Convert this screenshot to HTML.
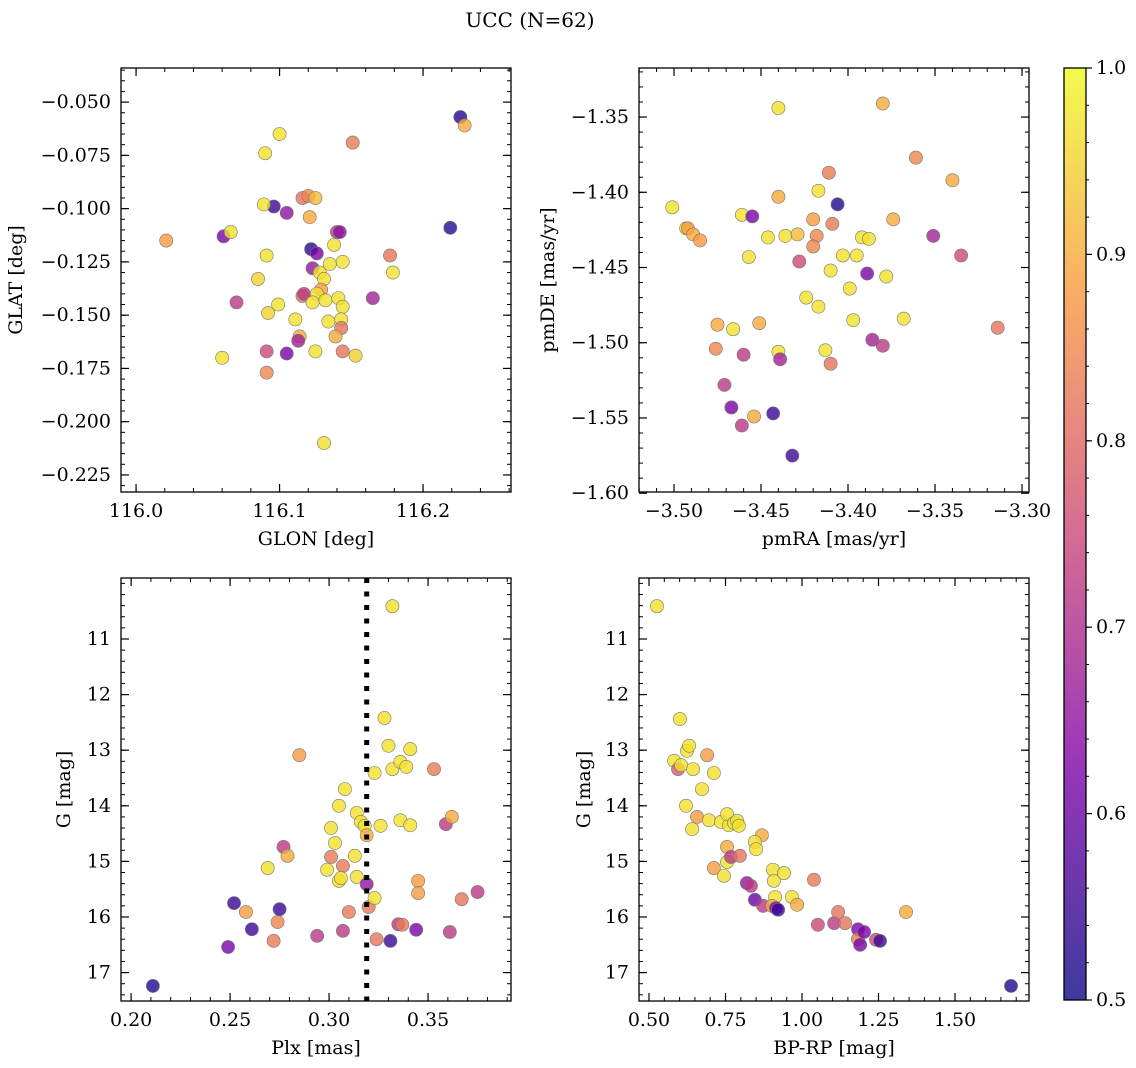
<!DOCTYPE html>
<html><head><meta charset="utf-8"><style>
html,body{margin:0;padding:0;background:#fff;}
svg{display:block;font-family:"DejaVu Serif","Liberation Serif",serif;}
</style></head><body>
<svg id="fig" width="1136" height="1068" viewBox="0 0 1136 1068" xmlns="http://www.w3.org/2000/svg">
<defs><linearGradient id="cmap" x1="0" y1="1" x2="0" y2="0">
<stop offset="0" stop-color="#0d0887"/><stop offset="0.25" stop-color="#7e03a8"/><stop offset="0.5" stop-color="#cc4778"/><stop offset="0.75" stop-color="#f89540"/><stop offset="1" stop-color="#f0f921"/></linearGradient></defs>
<text x="530" y="27" font-size="20" text-anchor="middle">UCC (N=62)</text>
</svg>
<script>
// ---- data ----
const tlGlon=[116.226,116.229,116.021,116.061,116.066,116.070,116.060,116.091,116.091,116.100,116.090,116.151,116.096,116.105,116.089,116.116,116.120,116.125,116.121,116.122,116.126,116.091,116.085,116.123,116.128,116.131,116.135,116.138,116.144,116.140,116.142,116.129,116.116,116.117,116.126,116.123,116.132,116.141,116.144,116.099,116.092,116.111,116.134,116.143,116.143,116.114,116.113,116.139,116.105,116.125,116.144,116.153,116.177,116.179,116.165,116.219,116.131];
const tlGlat=[-0.057,-0.061,-0.115,-0.113,-0.111,-0.144,-0.170,-0.177,-0.167,-0.065,-0.074,-0.069,-0.099,-0.102,-0.098,-0.095,-0.094,-0.095,-0.104,-0.119,-0.121,-0.122,-0.133,-0.128,-0.130,-0.133,-0.126,-0.117,-0.125,-0.111,-0.111,-0.138,-0.141,-0.140,-0.140,-0.144,-0.143,-0.142,-0.146,-0.145,-0.149,-0.152,-0.153,-0.152,-0.156,-0.160,-0.162,-0.160,-0.168,-0.167,-0.167,-0.169,-0.122,-0.130,-0.142,-0.109,-0.210];
const tlProb=[0.52,0.9,0.88,0.62,0.97,0.72,0.97,0.85,0.75,0.97,0.97,0.83,0.55,0.65,0.97,0.82,0.85,0.92,0.9,0.53,0.62,0.97,0.95,0.66,0.97,0.97,0.97,0.97,0.97,0.72,0.65,0.88,0.82,0.72,0.97,0.97,0.97,0.97,0.97,0.97,0.95,0.97,0.97,0.97,0.82,0.9,0.68,0.9,0.62,0.97,0.82,0.95,0.82,0.97,0.68,0.53,0.97];

const trPmra=[-3.501,-3.493,-3.492,-3.489,-3.485,-3.461,-3.455,-3.457,-3.475,-3.466,-3.451,-3.476,-3.460,-3.440,-3.439,-3.440,-3.440,-3.446,-3.436,-3.429,-3.428,-3.420,-3.418,-3.420,-3.417,-3.411,-3.409,-3.406,-3.424,-3.417,-3.410,-3.413,-3.410,-3.403,-3.399,-3.397,-3.395,-3.392,-3.388,-3.389,-3.386,-3.380,-3.378,-3.374,-3.368,-3.380,-3.361,-3.340,-3.351,-3.335,-3.314,-3.471,-3.467,-3.461,-3.454,-3.443,-3.432];
const trPmde=[-1.410,-1.424,-1.424,-1.428,-1.432,-1.415,-1.416,-1.443,-1.488,-1.491,-1.487,-1.504,-1.508,-1.506,-1.511,-1.344,-1.403,-1.430,-1.429,-1.428,-1.446,-1.418,-1.429,-1.436,-1.399,-1.387,-1.421,-1.408,-1.470,-1.476,-1.452,-1.505,-1.514,-1.442,-1.464,-1.485,-1.442,-1.430,-1.431,-1.454,-1.498,-1.502,-1.456,-1.418,-1.484,-1.341,-1.377,-1.392,-1.429,-1.442,-1.490,-1.528,-1.543,-1.555,-1.549,-1.547,-1.575];
const trProb=[0.97,0.97,0.88,0.9,0.88,0.97,0.62,0.97,0.9,0.97,0.9,0.85,0.72,0.97,0.68,0.97,0.9,0.97,0.97,0.92,0.75,0.88,0.85,0.85,0.97,0.83,0.83,0.52,0.97,0.97,0.97,0.97,0.82,0.97,0.97,0.97,0.97,0.97,0.97,0.62,0.68,0.72,0.97,0.9,0.97,0.9,0.85,0.9,0.68,0.75,0.82,0.72,0.62,0.72,0.9,0.55,0.55];

const blPlx=[0.211,0.249,0.252,0.258,0.261,0.272,0.274,0.275,0.277,0.279,0.269,0.294,0.285,0.299,0.301,0.303,0.301,0.305,0.305,0.307,0.306,0.308,0.310,0.307,0.313,0.314,0.314,0.316,0.318,0.319,0.319,0.320,0.323,0.324,0.323,0.326,0.328,0.330,0.332,0.332,0.336,0.339,0.341,0.336,0.341,0.335,0.337,0.331,0.344,0.345,0.345,0.353,0.359,0.362,0.361,0.367,0.375];
const blG=[17.24,16.54,15.75,15.91,16.22,16.43,16.09,15.86,14.74,14.90,15.12,16.34,13.09,15.15,14.40,14.67,14.92,14.00,15.35,15.08,15.30,13.70,15.91,16.25,14.90,15.28,14.13,14.29,14.36,14.53,15.41,15.82,15.66,16.40,13.41,14.36,12.42,12.92,10.41,13.34,13.21,13.30,12.98,14.26,14.35,16.13,16.14,16.43,16.23,15.35,15.57,13.34,14.33,14.20,16.27,15.68,15.55];
const blProb=[0.52,0.62,0.55,0.88,0.55,0.83,0.85,0.55,0.72,0.9,0.97,0.72,0.88,0.97,0.97,0.97,0.83,0.97,0.97,0.83,0.97,0.97,0.83,0.72,0.97,0.97,0.97,0.97,0.97,0.9,0.65,0.83,0.97,0.82,0.97,0.97,0.97,0.97,0.97,0.97,0.97,0.97,0.97,0.97,0.97,0.72,0.83,0.55,0.62,0.88,0.88,0.83,0.72,0.9,0.72,0.82,0.72];
const plxLine=[0.319];

const brColor=[0.526,0.601,0.582,0.595,0.605,0.624,0.631,0.644,0.621,0.641,0.657,0.673,0.690,0.696,0.712,0.712,0.735,0.745,0.755,0.755,0.761,0.755,0.768,0.778,0.788,0.794,0.797,0.820,0.833,0.846,0.869,0.846,0.850,0.873,0.905,0.908,0.912,0.902,0.915,0.922,0.941,0.967,0.984,1.039,1.052,1.105,1.118,1.141,1.183,1.183,1.190,1.203,1.242,1.255,1.340,1.683];
const brG=[10.41,12.44,13.19,13.34,13.27,13.01,12.92,13.34,14.00,14.42,14.20,13.70,13.09,14.26,13.41,15.12,14.29,15.26,15.01,14.74,14.35,14.15,14.92,14.31,14.27,14.36,14.90,15.39,15.44,15.69,14.53,14.65,14.78,15.80,15.15,15.35,15.64,15.80,15.84,15.87,15.21,15.64,15.78,15.33,16.14,16.11,15.91,16.11,16.22,16.40,16.50,16.27,16.41,16.43,15.91,17.24];
const brProb=[0.97,0.97,0.97,0.78,0.97,0.97,0.97,0.97,0.97,0.97,0.88,0.97,0.88,0.97,0.97,0.88,0.97,0.97,0.97,0.9,0.97,0.97,0.72,0.97,0.97,0.97,0.82,0.65,0.72,0.6,0.9,0.97,0.97,0.72,0.97,0.97,0.97,0.9,0.62,0.55,0.97,0.97,0.9,0.83,0.75,0.72,0.82,0.82,0.62,0.83,0.62,0.62,0.75,0.55,0.9,0.52];

const glonTicks=[116.0,116.1,116.2], glatTicks=[-0.050,-0.075,-0.100,-0.125,-0.150,-0.175,-0.200,-0.225];
const pmraTicks=[-3.50,-3.45,-3.40,-3.35,-3.30], pmdeTicks=[-1.35,-1.40,-1.45,-1.50,-1.55,-1.60];
const plxTicks=[0.20,0.25,0.30,0.35], gTicks=[11,12,13,14,15,16,17], bprpTicks=[0.50,0.75,1.00,1.25,1.50];
const cbTicks=[0.5,0.6,0.7,0.8,0.9,1.0];

// ---- drawing ----
const svg=document.getElementById('fig');
const NS='http://www.w3.org/2000/svg';
const FS=19;
function mk(tag,attrs,parent){const e=document.createElementNS(NS,tag);for(const k in attrs)e.setAttribute(k,attrs[k]);(parent||svg).appendChild(e);return e;}
const stops=[[13,8,135],[126,3,168],[204,71,120],[248,149,64],[240,249,33]];
function plasma(p){let t=Math.max(0,Math.min(1,(p-0.5)/0.5))*4;let i=Math.min(3,Math.floor(t));let f=t-i;const a=stops[i],b=stops[i+1];
return 'rgb('+a.map((v,k)=>Math.round(v+(b[k]-v)*f)).join(',')+')';}

function panel(name,box,xr,yr,xt,xminor,yt,yminor,xfmt,yfmt,xlabel,ylabel,ylabx){
  const [L,T,R,B]=box;
  const sx=v=>L+(v-xr[0])/(xr[1]-xr[0])*(R-L);
  const sy=v=>T+(v-yr[0])/(yr[1]-yr[0])*(B-T);
  const g=mk('g',{});
  
  
  const ax=mk('g',{},g);
  
  
  const lo=Math.min(xr[0],xr[1]),hi=Math.max(xr[0],xr[1]);
  for(let v=Math.ceil(lo/xminor-1e-6)*xminor;v<=hi+1e-9;v+=xminor){const x=sx(v);
    mk('line',{x1:x,x2:x,y1:B,y2:B-4,stroke:'#000','stroke-width':1},ax);mk('line',{x1:x,x2:x,y1:T,y2:T+4,stroke:'#000','stroke-width':1},ax);}
  const ylo=Math.min(yr[0],yr[1]),yhi=Math.max(yr[0],yr[1]);
  for(let v=Math.ceil(ylo/yminor-1e-6)*yminor;v<=yhi+1e-9;v+=yminor){const y=sy(v);
    mk('line',{x1:L,x2:L+4,y1:y,y2:y,stroke:'#000','stroke-width':1},ax);mk('line',{x1:R,x2:R-4,y1:y,y2:y,stroke:'#000','stroke-width':1},ax);}
  xt.forEach(v=>{const x=sx(v);
    mk('line',{x1:x,x2:x,y1:B,y2:B-8,stroke:'#000','stroke-width':1.2},ax);mk('line',{x1:x,x2:x,y1:T,y2:T+8,stroke:'#000','stroke-width':1.2},ax);
    const t=mk('text',{x:x,y:B+25,'font-size':FS,'text-anchor':'middle'},ax);t.textContent=xfmt(v);
    
    });
  yt.forEach(v=>{const y=sy(v);
    mk('line',{x1:L,x2:L+8,y1:y,y2:y,stroke:'#000','stroke-width':1.2},ax);mk('line',{x1:R,x2:R-8,y1:y,y2:y,stroke:'#000','stroke-width':1.2},ax);
    const t=mk('text',{x:L-10,y:y+6,'font-size':FS,'text-anchor':'end'},ax);t.textContent=yfmt(v);
    
    });
  const xl=mk('text',{x:(L+R)/2,y:B+53,'font-size':FS,'text-anchor':'middle'},g);xl.textContent=xlabel;
  
  
  const cy=(T+B)/2;
  const yl=mk('text',{x:ylabx,y:cy,'font-size':FS,'text-anchor':'middle',transform:'rotate(-90 '+ylabx+' '+cy+')'},g);yl.textContent=ylabel;
  
  
  const clip='clip-'+name;const cp=mk('clipPath',{id:clip},g);mk('rect',{x:L,y:T,width:R-L,height:B-T},cp);
  const pts=mk('g',{'clip-path':'url(#'+clip+')'},g);
  return {sx,sy,pts,g,box};
}
function scatter(p,xs,ys,cs){
  xs.forEach((v,i)=>{const c=mk('circle',{cx:p.sx(v),cy:p.sy(ys[i]),r:6.6,fill:plasma(cs[i]),'fill-opacity':0.8,stroke:'#777','stroke-width':0.6},p.pts);
    
    });
}
function frame(p){const [L,T,R,B]=p.box;const r=mk('rect',{x:L,y:T,width:R-L,height:B-T,fill:'none',stroke:'#000','stroke-width':1.3},p.g);
  
  }

const f3=v=>(v<0?'\u2212':'')+Math.abs(v).toFixed(3), f2=v=>(v<0?'\u2212':'')+Math.abs(v).toFixed(2), f1=v=>v.toFixed(1), f0=v=>String(v);

const p1=panel('glon-glat-panel',[121,68,511,492],[115.9895,116.2613],[-0.0340,-0.2330],glonTicks,0.02,glatTicks,0.005,f1,f3,'GLON [deg]','GLAT [deg]',22);
scatter(p1,tlGlon,tlGlat,tlProb);frame(p1);
const p2=panel('pm-panel',[639,68,1029,492],[-3.5201,-3.296],[-1.3174,-1.5992],pmraTicks,0.01,pmdeTicks,0.01,f2,f2,'pmRA [mas/yr]','pmDE [mas/yr]',554);
scatter(p2,trPmra,trPmde,trProb);frame(p2);
const p3=panel('plx-g-panel',[121,578,511,1001],[0.1949,0.3919],[9.903,17.511],plxTicks,0.01,gTicks,0.2,f2,f0,'Plx [mas]','G [mag]',70);
scatter(p3,blPlx,blG,blProb);
plxLine.forEach(v=>{const l=mk('line',{x1:p3.sx(v),x2:p3.sx(v),y1:578,y2:1001,stroke:'#000','stroke-width':5,'stroke-dasharray':'5 8.5'},p3.g);
  
  });
frame(p3);
const p4=panel('cmd-panel',[639,578,1029,1001],[0.4673,1.7418],[9.903,17.511],bprpTicks,0.05,gTicks,0.2,f2,f0,'BP-RP [mag]','G [mag]',590);
scatter(p4,brColor,brG,brProb);frame(p4);

// colorbar
const cb=mk('g',{});


const CT=68,CB=1000,CL=1064,CR=1086;
mk('rect',{x:CL,y:CT,width:CR-CL,height:CB-CT,fill:'url(#cmap)','fill-opacity':0.8},cb);
mk('rect',{x:CL,y:CT,width:CR-CL,height:CB-CT,fill:'none',stroke:'#000','stroke-width':1.3},cb);
const cy=v=>CB-(v-0.5)/0.5*(CB-CT);
for(let v=0.5;v<=1.0001;v+=0.02){mk('line',{x1:CR,x2:CR+3,y1:cy(v),y2:cy(v),stroke:'#000','stroke-width':1},cb);}
cbTicks.forEach(v=>{mk('line',{x1:CR,x2:CR+6,y1:cy(v),y2:cy(v),stroke:'#000','stroke-width':1.2},cb);
  const t=mk('text',{x:CR+10,y:cy(v)+6,'font-size':FS},cb);t.textContent=v.toFixed(1);
  
  });
</script>
</body></html>
